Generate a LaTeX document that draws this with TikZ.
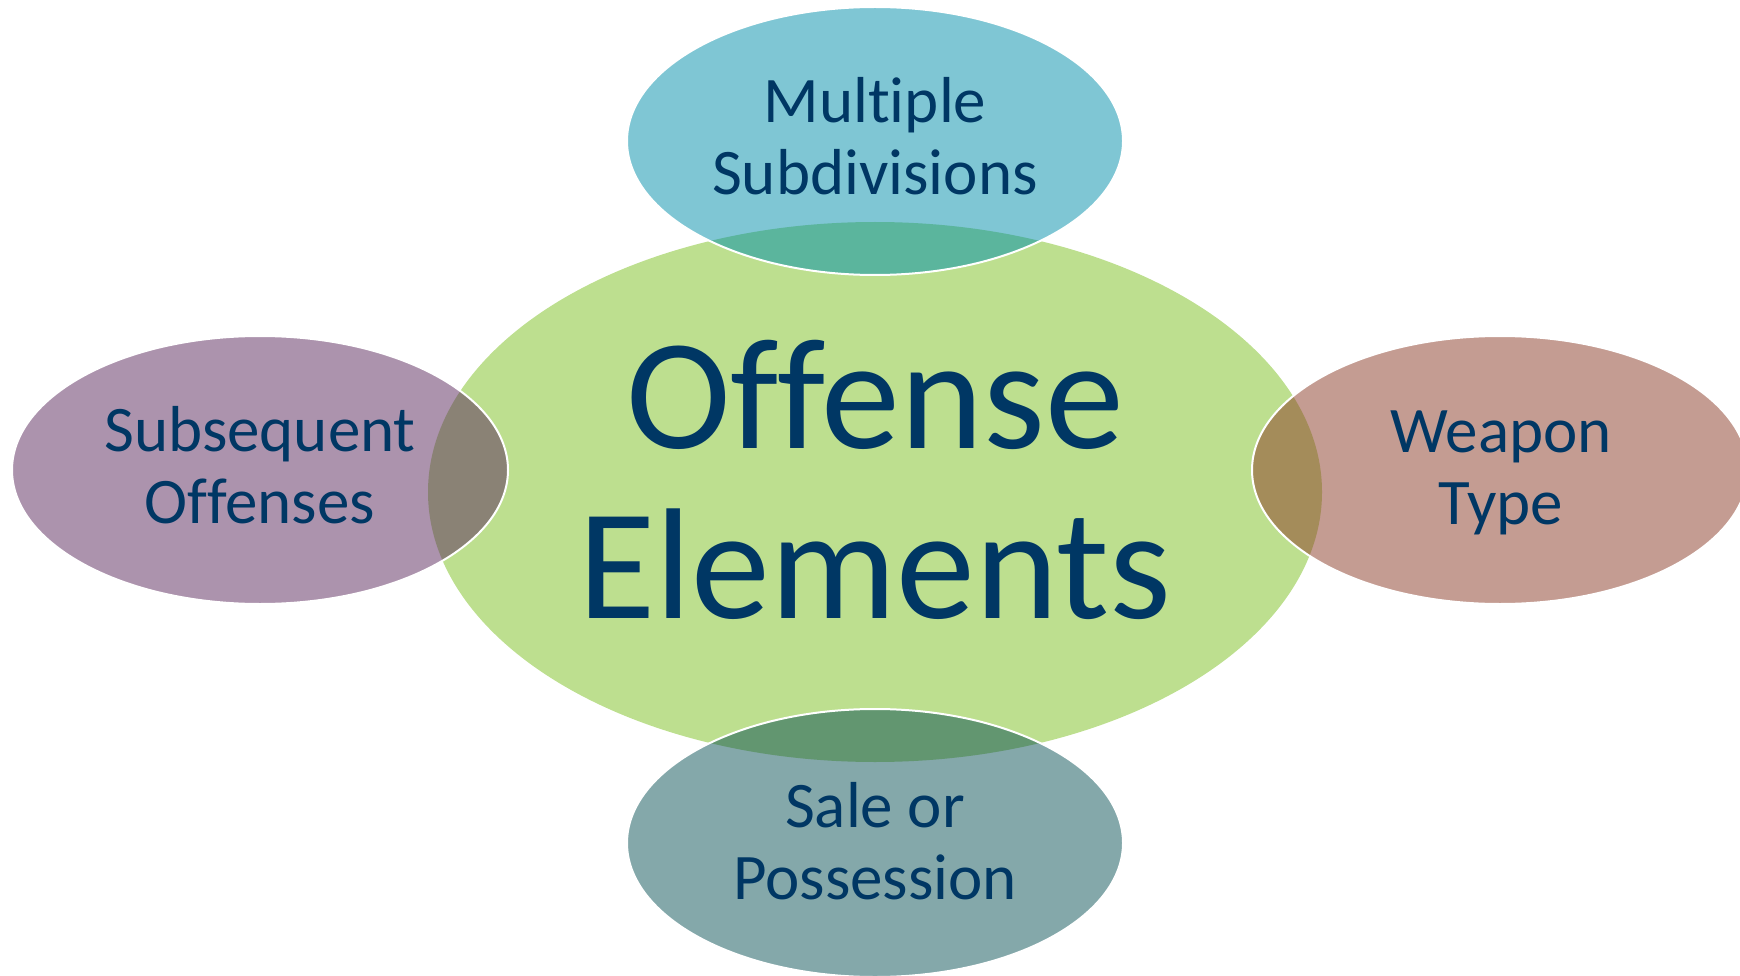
\documentclass[tikz,border=0pt]{standalone}
\usepackage{fontspec}
\setmainfont{Carlito}[Ligatures={NoCommon,NoDiscretionary}]

\definecolor{elementgreen}{RGB}{189,223,143}
\definecolor{subdivblue}{RGB}{127,198,212}
\definecolor{subdivlens}{RGB}{91,181,157}
\definecolor{saleteal}{RGB}{132,168,170}
\definecolor{salelens}{RGB}{98,150,112}
\definecolor{subseqmauve}{RGB}{172,147,173}
\definecolor{subseqlens}{RGB}{138,130,117}
\definecolor{weaponrose}{RGB}{196,156,146}
\definecolor{weaponlens}{RGB}{164,140,90}
\definecolor{labelnavy}{RGB}{0,55,100}

\begin{document}
\begin{tikzpicture}[x=1pt,y=-1pt]
    \tikzstyle{outer ellipse}=[x radius=248pt, y radius=134pt]
    \tikzstyle{centre ellipse}=[x radius=447pt, y radius=270pt]
    \tikzstyle{annot}=[text=labelnavy, align=center, inner sep=0pt, font=\fontsize{65}{72}\selectfont]
    \tikzstyle{big annot}=[annot, font=\fontsize{158}{170}\selectfont]

    \useasboundingbox (0,0) rectangle (1740,976);

    % Draw the central ellipse
    \fill[elementgreen] (875,492) ellipse [centre ellipse];

    % Draw the outer ellipses, their overlaps with the centre, and the white rims
    \foreach \name / \x / \y / \col / \lens in {S/875/141/subdivblue/subdivlens,
                                               P/875/843/saleteal/salelens,
                                               O/260/470/subseqmauve/subseqlens,
                                               W/1500/470/weaponrose/weaponlens}
    {
        \fill[\col] (\x,\y) ellipse [outer ellipse];
        \begin{scope}
            \clip (875,492) ellipse [centre ellipse];
            \fill[\lens] (\x,\y) ellipse [outer ellipse];
        \end{scope}
        \draw[white, line width=2pt] (\x,\y) ellipse [outer ellipse];
    }

    % Annotate the ellipses
    \node[big annot] (elements) at (875,480) {Offense\\Elements};
    \node[annot] (subdiv) at (875,136) {Multiple\\Subdivisions};
    \node[annot] (sale) at (875,841) {Sale or\\Possession};
    \node[annot] (subseq) at (260,465) {Subsequent\\Offenses};
    \node[annot] (weapon) at (1501,473) {Weapon\\Type};
\end{tikzpicture}
\end{document}
